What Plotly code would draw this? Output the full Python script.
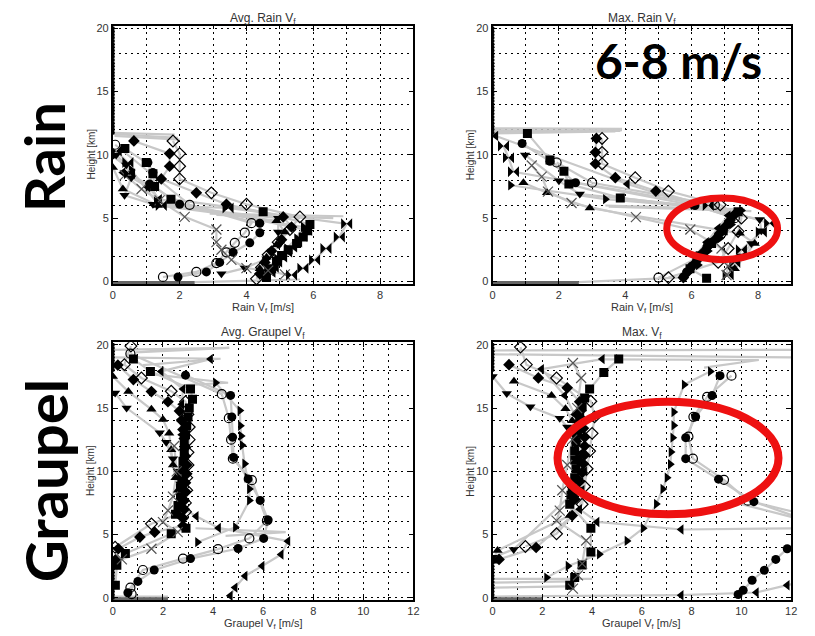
import plotly.graph_objects as go

# ---------------- Avg. Rain V_f  (v [m/s], h [km]) ----------------
ar_diamond_o_v = [1.8, 2.0, 2.0, 2.0, 2.95, 4.0, 5.6, 5.3, 4.95, 4.65, 4.45, 4.3]
ar_diamond_o_h = [11.1, 10.1, 9.1, 8.1, 7.0, 6.1, 5.1, 4.1, 3.1, 2.1, 1.1, 0.2]
ar_diamond_f_v = [0.63, 1.7, 1.7, 1.45, 2.5, 3.4, 5.1, 5.35, 5.05, 4.75, 4.55, 4.4]
ar_diamond_f_h = [11.1, 10.1, 9.1, 8.1, 7.0, 6.1, 5.1, 4.3, 3.3, 2.4, 1.5, 0.6]
ar_square_v = [0.36, 1.0, 1.2, 1.25, 1.74, 4.5, 5.9, 5.8, 5.7, 5.5, 5.25, 5.05, 4.9, 4.75, 4.6]
ar_square_h = [10.5, 9.4, 8.5, 7.5, 6.5, 5.5, 4.5, 4.0, 3.5, 3.0, 2.5, 2.05, 1.6, 1.0, 0.3]
ar_circle_f_v = [1.05, 1.2, 1.1, 2.0, 4.4, 4.4, 4.1, 3.6, 3.2, 2.8, 1.95]
ar_circle_f_h = [9.4, 8.6, 7.7, 6.1, 4.6, 3.85, 3.05, 2.3, 1.5, 0.75, 0.35]
ar_circle_o_v = [0.07, 2.3, 4.15, 3.95, 3.65, 3.4, 3.1, 2.5, 1.5]
ar_circle_o_h = [10.8, 6.05, 4.6, 3.85, 3.05, 2.3, 1.45, 0.75, 0.35]
ar_tri_down_v = [0.1, 0.4, 0.55, 0.35, 1.2, 4.95, 4.95, 5.0, 4.6, 3.95, 3.25]
ar_tri_down_h = [10.0, 9.2, 8.2, 6.8, 6.1, 5.0, 3.9, 2.95, 1.8, 1.05, 0.6]
ar_tri_up_v = [0.0, 0.3, 1.35, 4.9, 5.15, 4.9, 4.6, 4.4]
ar_tri_up_h = [9.0, 7.3, 6.0, 4.8, 3.9, 2.9, 1.9, 1.0]
ar_tri_left_v = [0.3, 1.05, 1.4, 5.9, 5.75, 5.6, 5.45, 5.3, 5.15, 5.0, 4.9, 4.8]
ar_tri_left_h = [8.6, 7.45, 6.5, 4.0, 3.55, 3.1, 2.7, 2.3, 1.9, 1.5, 1.1, 0.7]
ar_tri_right_v = [0.0, 0.55, 1.3, 5.7, 5.5, 5.2, 4.9, 4.6]
ar_tri_right_h = [9.9, 8.8, 6.3, 4.3, 3.4, 2.6, 1.8, 0.9]
ar_x_v = [0.36, 0.86, 1.4, 2.15, 3.1, 3.1, 3.25, 3.55, 4.0, 4.65, 5.15]
ar_x_h = [8.4, 7.3, 6.4, 5.1, 4.1, 3.1, 2.5, 1.7, 1.05, 0.85, 0.55]
ar_bowtie_v = [0.1, 0.45, 0.5, 1.15, 1.45, 3.45, 7.0, 6.78, 6.38, 6.04, 5.69, 5.35]
ar_bowtie_h = [10.3, 9.4, 8.5, 7.5, 6.0, 5.8, 4.55, 3.5, 2.6, 1.7, 1.04, 0.5]
ar_tail_v = [0, 1.85, None, 0, 1.95, None, 0.05, 2.0, None, 2.9, 6.9, None, 3.1, 6.6, None, 2.45, 5.6]
ar_tail_h = [11.75, 11.6, None, 11.65, 11.35, None, 11.5, 11.2, None, 5.35, 5.15, None, 5.25, 5.0, None, -0.05, 0.15]
ar_surface_v = [0, 2.45]
ar_surface_h = [-0.08, -0.08]

# ---------------- Max. Rain V_f ----------------
mr_square_v = [1.05, 1.73, 2.15, 2.3, 3.85, 7.4, 6.95, 6.6, 6.25, 5.95, 6.45]
mr_square_h = [11.7, 9.6, 8.7, 7.7, 6.6, 5.5, 4.0, 3.0, 2.0, 1.0, 0.25]
mr_circle_f_v = [0.89, 1.73, 2.5, 6.1, 7.2, 7.1, 6.95, 6.8, 6.6, 6.45, 6.3, 6.15, 6.0, 5.85, 5.75]
mr_circle_f_h = [10.9, 9.5, 7.8, 6.0, 5.1, 4.6, 4.0, 3.6, 3.1, 2.6, 2.1, 1.65, 1.2, 0.75, 0.35]
mr_circle_o_v = [1.93, 3.0, 6.7, 7.3, 6.9, 6.5, 6.2, 5.0]
mr_circle_o_h = [9.4, 7.8, 6.05, 5.0, 3.8, 2.9, 1.9, 0.3]
mr_diamond_f_v = [3.13, 3.1, 3.1, 3.7, 4.92, 7.3, 7.15, 7.0, 6.85, 6.7, 6.5, 6.35, 6.2, 6.05, 5.9, 5.75]
mr_diamond_f_h = [11.3, 10.2, 9.3, 8.2, 7.14, 5.3, 4.8, 4.3, 3.8, 3.3, 2.8, 2.3, 1.8, 1.3, 0.8, 0.3]
mr_diamond_o_v = [3.3, 3.3, 3.3, 4.3, 5.3, 6.86, 7.5, 7.4, 7.1, 6.8, 5.3]
mr_diamond_o_h = [11.3, 10.2, 9.3, 8.2, 7.14, 6.05, 5.0, 3.95, 2.6, 1.5, 0.3]
mr_tri_right_v = [0.54, 3.4, 7.5, 7.2, 6.85, 6.5, 6.2]
mr_tri_right_h = [7.6, 6.5, 5.6, 4.5, 3.4, 2.4, 1.3]
mr_tri_left_v = [0.1, 4.06, 7.1, 6.8, 6.45, 6.1, 5.85]
mr_tri_left_h = [11.5, 7.7, 5.2, 4.2, 3.1, 2.0, 0.8]
mr_tri_down_v = [0.98, 2.0, 2.63, 6.0, 8.05, 8.1, 7.8, 7.5, 7.2]
mr_tri_down_h = [10.0, 7.95, 6.9, 6.0, 4.9, 4.0, 3.0, 2.0, 1.0]
mr_tri_up_v = [0.93, 1.64, 2.93, 7.45, 7.9, 7.6, 7.3]
mr_tri_up_h = [7.8, 7.0, 5.8, 3.8, 3.0, 2.0, 1.0]
mr_bowtie_v = [0.33, 0.48, 0.63, 6.5, 8.35, 8.1, 7.5, 7.3, 7.1]
mr_bowtie_h = [10.7, 9.77, 8.67, 6.0, 4.6, 3.9, 2.5, 1.5, 0.5]
mr_x_v = [1.18, 1.48, 1.67, 2.38, 4.32, 5.96, 6.9, 7.1, 7.05]
mr_x_h = [9.16, 8.28, 7.1, 6.2, 5.08, 4.1, 2.6, 1.2, 0.5]
mr_tail_v = [0, 3.9, None, 0, 3.85, None, 0, 3.9, None, 0, 3.7, None, 2.6, 5.6, None, 3.4, 7.6, None, 3.5, 7.8]
mr_tail_h = [12.1, 12.05, None, 11.95, 11.9, None, 11.8, 11.95, None, 11.7, 11.85, None, -0.05, 0.3, None, 6.0, 5.7, None, 5.9, 5.55]
mr_surface_v = [0, 2.6]
mr_surface_h = [-0.08, -0.08]

rain_zero_h = [11.75, 12.0, 12.25, 12.5, 12.75, 13.0, 13.25, 13.5, 13.75, 14.0, 14.25, 14.5,
               14.75, 15.0, 15.25, 15.5, 15.75, 16.0, 16.25, 16.5, 16.75, 17.0, 17.25, 17.5,
               17.75, 18.0, 18.25, 18.5, 18.75, 19.0, 19.25, 19.5, 19.75, 20.0]
rain_zero_v = [0.0] * len(rain_zero_h)

# ---------------- Avg. Graupel V_f ----------------
ag_circle_f_v = [2.9, 4.7, 4.75, 4.78, 4.82, 5.4, 5.88, 6.2, 6.02, 5.0, 3.1, 1.65, 1.0, 0.6]
ag_circle_f_h = [17.6, 16.0, 14.3, 12.7, 11.1, 9.4, 7.7, 6.15, 4.7, 3.9, 3.1, 2.2, 1.3, 0.4]
ag_circle_o_v = [0.7, 4.35, 4.63, 4.72, 4.79, 5.55, 6.15, 5.45, 4.2, 2.8, 1.2, 0.7, 0.75]
ag_circle_o_h = [19.3, 16.1, 14.2, 12.5, 11.0, 9.3, 6.1, 4.7, 3.85, 3.1, 2.2, 0.8, 0.3]
ag_tri_right_v = [4.1, 5.07, 5.09, 5.12, 5.16, 5.26, 5.35, 5.45, 5.45, 4.89, 3.38]
ag_tri_right_h = [17.0, 14.8, 13.6, 12.8, 12.06, 10.6, 9.5, 8.6, 7.7, 5.58, 4.4]
ag_tri_left_v = [3.9, 1.93, 2.8, 2.75, 2.7, 2.75, 2.8, 2.85, 2.8, 2.75, 2.7, 3.33, 4.22, 6.99, 6.72, 5.96, 5.28, 4.88, 4.69]
ag_tri_left_h = [18.87, 17.9, 16.5, 15.3, 14.1, 12.9, 11.7, 10.5, 9.3, 8.1, 7.2, 6.45, 5.53, 4.48, 3.43, 2.52, 1.73, 0.81, 0.16]
ag_square_v = [0.82, 1.5, 3.1, 3.18, 3.05, 3.0, 2.95, 2.9, 2.85, 2.85, 2.8, 2.8, 2.75, 2.7, 2.7, 2.6, 2.5, 2.92, 2.33, 0.5, 0.16, 0.1]
ag_square_h = [18.87, 17.9, 16.5, 15.7, 15.0, 14.3, 13.6, 12.9, 12.2, 11.5, 10.8, 10.1, 9.4, 8.7, 8.0, 7.3, 6.6, 5.5, 5.06, 3.5, 2.57, 1.0]
ag_diamond_f_v = [0.2, 0.82, 1.54, 2.2, 2.66, 2.75, 2.8, 2.85, 2.9, 2.9, 2.95, 2.95, 2.9, 2.9, 2.85, 2.85, 2.8, 2.8, 1.67, 1.08, 0.22, 0.1]
ag_diamond_f_h = [18.4, 17.25, 16.3, 15.5, 14.76, 14.0, 13.3, 12.6, 11.9, 11.2, 10.5, 9.8, 9.1, 8.4, 7.7, 7.0, 6.3, 5.7, 5.19, 4.8, 3.88, 3.0]
ag_diamond_o_v = [0.72, 0.46, 1.14, 2.33, 2.9, 3.0, 3.05, 3.05, 3.0, 3.0, 2.95, 2.95, 2.9, 2.9, 1.54, 0.09]
ag_diamond_o_h = [19.9, 18.43, 17.38, 16.33, 15.5, 14.5, 13.5, 12.5, 11.5, 10.5, 9.5, 8.5, 7.5, 6.8, 5.85, 4.0]
ag_tri_up_v = [0.0, 0.62, 1.54, 2.0, 2.25, 2.33, 2.4, 2.5, 2.6, 2.65, 2.7]
ag_tri_up_h = [17.5, 16.3, 14.9, 14.1, 13.0, 11.7, 10.5, 9.5, 8.5, 7.5, 6.5]
ag_tri_down_v = [0.09, 0.55, 1.87, 2.13, 2.4, 2.6, 2.7, 2.75]
ag_tri_down_h = [16.2, 15.0, 13.05, 12.3, 11.0, 10.0, 9.0, 8.0]
ag_x_v = [2.45, 2.55, 2.4, 2.2, 2.0, 2.59, 1.54, 0.36]
ag_x_h = [12.0, 10.0, 8.0, 6.9, 5.98, 5.19, 3.88, 3.04]
ag_tail_v = [0, 4.65, 0.9, None, 0, 4.3, 1.2, None, 1.4, 4.6, 2.7, None, 3.3, 6.9, 4.5, None, 0, 2.2]
ag_tail_h = [19.6, 19.75, 19.4, None, 19.0, 18.9, 18.4, None, 17.7, 17.0, 16.8, None, 5.5, 5.2, 4.9, None, 0.1, 0.1]
ag_surface_v = [0, 2.2]
ag_surface_h = [-0.08, -0.08]

# ---------------- Max. V_f (graupel) ----------------
mg_tri_right_v = [8.75, 7.7, 7.28, 7.28, 7.24, 7.17, 7.14, 7.01, 6.84, 6.58, 6.05, 5.4, 4.29, 3.03, 2.17]
mg_tri_right_h = [17.9, 16.85, 14.68, 13.63, 12.66, 11.53, 10.56, 9.5, 8.6, 7.42, 5.5, 4.5, 3.44, 2.52, 1.6]
mg_circle_f_v = [9.14, 8.82, 8.16, 7.76, 7.76, 9.08, 10.5, 13.5, 11.84, 11.38, 10.92, 10.43, 10.07, 9.87]
mg_circle_f_h = [17.56, 15.99, 14.31, 12.66, 11.0, 9.38, 7.6, 5.5, 3.88, 3.04, 2.18, 1.39, 0.6, 0.26]
mg_circle_o_v = [9.6, 8.62, 8.07, 7.87, 8.05, 9.3, 10.26, 12.5]
mg_circle_o_h = [17.56, 15.88, 14.31, 12.74, 11.0, 9.33, 7.68, 6.6]
mg_tri_left_v = [4.41, 1.97, 2.9, 3.3, 3.5, 3.6, 3.7, 3.6, 3.5, 4.2, 7.58, 12.5]
mg_tri_left_h = [18.87, 18.08, 16.0, 14.5, 13.0, 11.5, 10.0, 8.5, 7.0, 6.0, 5.4, 5.5]
mg_tri_left2_v = [7.58, 10.6, 11.84, 12.5]
mg_tri_left2_h = [0.21, 0.42, 1.0, 1.3]
mg_square_v = [5.07, 4.47, 3.9, 3.7, 3.6, 3.5, 3.45, 3.4, 3.35, 3.3, 3.3, 3.35, 3.3, 3.2, 3.15, 3.1, 3.95, 3.95, 3.6, 3.3, 3.1]
mg_square_h = [18.87, 17.82, 16.5, 15.8, 15.1, 14.4, 13.7, 13.0, 12.3, 11.6, 10.9, 10.2, 9.5, 8.8, 8.1, 7.4, 5.5, 3.62, 2.6, 1.6, 1.0]
mg_diamond_o_v = [1.12, 1.36, 2.57, 3.95, 4.1, 4.0, 3.9, 3.8, 3.7, 3.6, 2.57, 1.32]
mg_diamond_o_h = [19.82, 18.43, 17.38, 15.54, 14.3, 13.0, 11.6, 10.2, 8.8, 7.4, 5.06, 4.06]
mg_diamond_f_v = [0.66, 1.84, 3.0, 3.5, 3.55, 3.6, 3.65, 3.7, 3.7, 3.7, 3.65, 3.6, 3.5, 3.4, 3.3, 3.2, 1.75, 0.26]
mg_diamond_f_h = [18.43, 17.38, 16.6, 15.5, 14.8, 14.1, 13.4, 12.7, 12.0, 11.3, 10.6, 9.9, 9.2, 8.5, 7.8, 6.5, 3.98, 3.04]
mg_tri_up_v = [0.86, 2.37, 2.93, 3.2, 3.4, 3.5, 3.4, 3.3, 3.1, 0.2, 0.0]
mg_tri_up_h = [17.12, 15.99, 14.94, 14.0, 12.5, 11.0, 9.5, 8.0, 6.5, 3.75, 2.9]
mg_tri_down_v = [0.0, 0.57, 1.52, 2.7, 3.0, 3.3, 3.35, 3.4, 3.45, 3.5, 3.45, 3.4, 0.85, 0.0]
mg_tri_down_h = [17.5, 16.15, 15.1, 14.2, 13.5, 12.8, 12.1, 11.4, 10.7, 10.0, 9.3, 8.6, 3.83, 3.2]
mg_x_v = [3.23, 3.56, 3.4, 3.2, 3.0, 2.8, 2.7, 2.57, 3.76, 3.6, 3.43, 3.23]
mg_x_h = [18.56, 17.38, 15.0, 12.5, 10.5, 8.5, 6.89, 6.1, 4.53, 2.7, 1.78, 0.73]
mg_tail_v = [0, 12, None, 0, 12, None, 4.5, 10.7, 8.5, None, 0, 4.0, None, 0, 3.2, None,
             0, 3.0, None, 0, 7.58, None, 9.6, 12, None]
mg_tail_h = [19.55, 19.6, None, 19.25, 19.0, None, 18.85, 18.8, 18.2, None, 1.5, 1.5, None, 1.2, 1.3, None,
             0.8, 0.9, None, 0.1, 0.21, None, 7.6, 6.4, None]
mg_surface_v = [0, 2.0]
mg_surface_h = [-0.08, -0.08]

graupel_zero_h = [0.0, 0.25, 0.5, 0.75, 1.0, 1.25, 1.5, 1.75, 2.0, 2.25, 2.5, 2.75, 3.0,
                  18.0, 18.25, 18.5, 18.75, 19.0, 19.25, 19.5, 19.75, 20.0]
graupel_zero_v = [0.0] * len(graupel_zero_h)

# ---------------- styling ----------------
LINE_GRAY = "#c8c8c8"
GRID_DASH = "2px,4px"
FONT = "Liberation Sans"

panels = [
    ("x", "y", [
        (ar_diamond_o_v, ar_diamond_o_h, "diamond-open"), (ar_diamond_f_v, ar_diamond_f_h, "diamond"),
        (ar_square_v, ar_square_h, "square"), (ar_circle_f_v, ar_circle_f_h, "circle"),
        (ar_circle_o_v, ar_circle_o_h, "circle-open"), (ar_tri_down_v, ar_tri_down_h, "triangle-down"),
        (ar_tri_up_v, ar_tri_up_h, "triangle-up"), (ar_tri_left_v, ar_tri_left_h, "triangle-left"),
        (ar_tri_right_v, ar_tri_right_h, "triangle-right"), (ar_x_v, ar_x_h, "x-thin-open"),
        (ar_bowtie_v, ar_bowtie_h, "bowtie")],
     (ar_tail_v, ar_tail_h), (ar_surface_v, ar_surface_h), (rain_zero_v, rain_zero_h)),
    ("x2", "y2", [
        (mr_square_v, mr_square_h, "square"), (mr_circle_f_v, mr_circle_f_h, "circle"),
        (mr_circle_o_v, mr_circle_o_h, "circle-open"), (mr_diamond_f_v, mr_diamond_f_h, "diamond"),
        (mr_diamond_o_v, mr_diamond_o_h, "diamond-open"), (mr_tri_right_v, mr_tri_right_h, "triangle-right"),
        (mr_tri_left_v, mr_tri_left_h, "triangle-left"), (mr_tri_down_v, mr_tri_down_h, "triangle-down"),
        (mr_tri_up_v, mr_tri_up_h, "triangle-up"), (mr_bowtie_v, mr_bowtie_h, "bowtie"),
        (mr_x_v, mr_x_h, "x-thin-open")],
     (mr_tail_v, mr_tail_h), (mr_surface_v, mr_surface_h), (rain_zero_v, rain_zero_h)),
    ("x3", "y3", [
        (ag_circle_f_v, ag_circle_f_h, "circle"), (ag_circle_o_v, ag_circle_o_h, "circle-open"),
        (ag_tri_right_v, ag_tri_right_h, "triangle-right"), (ag_tri_left_v, ag_tri_left_h, "triangle-left"),
        (ag_square_v, ag_square_h, "square"), (ag_diamond_f_v, ag_diamond_f_h, "diamond"),
        (ag_diamond_o_v, ag_diamond_o_h, "diamond-open"), (ag_tri_up_v, ag_tri_up_h, "triangle-up"),
        (ag_tri_down_v, ag_tri_down_h, "triangle-down"), (ag_x_v, ag_x_h, "x-thin-open")],
     (ag_tail_v, ag_tail_h), (ag_surface_v, ag_surface_h), (graupel_zero_v, graupel_zero_h)),
    ("x4", "y4", [
        (mg_tri_right_v, mg_tri_right_h, "triangle-right"), (mg_circle_f_v, mg_circle_f_h, "circle"),
        (mg_circle_o_v, mg_circle_o_h, "circle-open"), (mg_tri_left_v, mg_tri_left_h, "triangle-left"),
        (mg_tri_left2_v, mg_tri_left2_h, "triangle-left"), (mg_square_v, mg_square_h, "square"),
        (mg_diamond_o_v, mg_diamond_o_h, "diamond-open"), (mg_diamond_f_v, mg_diamond_f_h, "diamond"),
        (mg_tri_up_v, mg_tri_up_h, "triangle-up"), (mg_tri_down_v, mg_tri_down_h, "triangle-down"),
        (mg_x_v, mg_x_h, "x-thin-open")],
     (mg_tail_v, mg_tail_h), (mg_surface_v, mg_surface_h), (graupel_zero_v, graupel_zero_h)),
]

fig = go.Figure()


def marker_style(sym):
    if sym == "x-thin-open":
        return dict(symbol=sym, size=10, color="#555555", line=dict(color="#555555", width=1.2))
    if sym.endswith("-open"):
        return dict(symbol=sym, size=9, color="black", line=dict(color="black", width=1.2))
    if sym == "bowtie":
        return dict(symbol=sym, size=11, color="black", line=dict(width=0))
    return dict(symbol=sym, size=9, color="black", line=dict(width=0))


for xa, ya, series, tail, surface, zero in panels:
    common = dict(xaxis=xa, yaxis=ya, showlegend=False, hoverinfo="skip")
    for v, h, sym in series:
        fig.add_trace(go.Scatter(x=v, y=h, mode="lines", line=dict(color=LINE_GRAY, width=2.2), **common))
    fig.add_trace(go.Scatter(x=tail[0], y=tail[1], mode="lines", connectgaps=False,
                             line=dict(color=LINE_GRAY, width=2.2), **common))
    fig.add_trace(go.Scatter(x=surface[0], y=surface[1], mode="lines",
                             line=dict(color="#666666", width=3), **common))
    fig.add_trace(go.Scatter(x=zero[0], y=zero[1], mode="markers",
                             marker=dict(symbol="circle", size=4, color="black"), **common))
    for v, h, sym in series:
        fig.add_trace(go.Scatter(x=v, y=h, mode="markers", marker=marker_style(sym), **common))

# The page body has an 8px margin; the figure starts at (8, 8) and fills the rest of the window
OFF = 8
W, H = 815 - OFF, 636 - OFF


def px_x(p):
    return (p - OFF) / W


def px_y(p):
    return 1 - (p - OFF) / H


def xdom(p0, p1):
    return [px_x(p0), px_x(p1)]


def ydom(top, bottom):
    return [px_y(bottom), px_y(top)]


def xaxis_cfg(dom, xmax, anchor):
    return dict(domain=dom, range=[0, xmax], anchor=anchor, tick0=0, dtick=2,
                showgrid=True, gridcolor="black", gridwidth=1, griddash=GRID_DASH,
                minor=dict(tick0=0, dtick=1, showgrid=True, gridcolor="black", gridwidth=1,
                           griddash=GRID_DASH, ticks="inside", ticklen=3, tickcolor="black"),
                ticks="inside", ticklen=5, tickcolor="black", showline=True, linecolor="black",
                linewidth=1.8, mirror="allticks", zeroline=False,
                tickfont=dict(family=FONT, size=11, color="#333333"))


def yaxis_cfg(dom, anchor):
    return dict(domain=dom, range=[-0.2, 20.2], anchor=anchor, tickmode="array",
                tickvals=[0, 5, 10, 15, 20], showgrid=False,
                minor=dict(tick0=0, dtick=2, showgrid=True, gridcolor="black", gridwidth=1,
                           griddash=GRID_DASH, ticks="outside", ticklen=0),
                ticks="inside", ticklen=5, tickcolor="black", showline=True, linecolor="black",
                linewidth=1.8, mirror="allticks", zeroline=False,
                tickfont=dict(family=FONT, size=11, color="#333333"))


LX = xdom(111, 415)
RX = xdom(495, 797)
TY = ydom(22, 283)
BY = ydom(342, 603)

fig.update_layout(
    width=W, height=H, autosize=False, margin=dict(l=0, r=0, t=0, b=0),
    paper_bgcolor="white", plot_bgcolor="white", showlegend=False,
    xaxis=xaxis_cfg(LX, 9, "y"), yaxis=yaxis_cfg(TY, "x"),
    xaxis2=xaxis_cfg(RX, 9, "y2"), yaxis2=yaxis_cfg(TY, "x2"),
    xaxis3=xaxis_cfg(LX, 12, "y3"), yaxis3=yaxis_cfg(BY, "x3"),
    xaxis4=xaxis_cfg(RX, 12, "y4"), yaxis4=yaxis_cfg(BY, "x4"),
)

annots = []


def ann(text, px, py, size, angle=0, bold=False, family=FONT, color="#333333"):
    annots.append(dict(text=f"<b>{text}</b>" if bold else text, x=px_x(px), y=px_y(py),
                       xref="paper", yref="paper", showarrow=False, textangle=angle,
                       xanchor="center", yanchor="middle",
                       font=dict(family=family, size=size, color=color)))


ann("Avg. Rain V<sub>f</sub>", 263, 15, 12)
ann("Max. Rain V<sub>f</sub>", 646, 15, 12)
ann("Avg. Graupel V<sub>f</sub>", 263, 333, 12)
ann("Max. V<sub>f</sub>", 646, 333, 12)
ann("Rain V<sub>f</sub> [m/s]", 263, 307, 11)
ann("Rain V<sub>f</sub> [m/s]", 646, 307, 11)
ann("Graupel V<sub>f</sub> [m/s]", 263, 627, 11)
ann("Graupel V<sub>f</sub> [m/s]", 646, 627, 11)
ann("Height [km]", 89, 152, 10, angle=-90)
ann("Height [km]", 473, 152, 10, angle=-90)
ann("Height [km]", 89, 472, 10, angle=-90)
ann("Height [km]", 473, 472, 10, angle=-90)
ann("Rain", 41, 155, 56, angle=-90, bold=True, family="Lato", color="black")
ann("Graupel", 43, 482, 58, angle=-90, bold=True, family="Lato", color="black")
ann("6-8 m/s", 683, 57, 48, bold=True, family="Lato", color="black")

fig.update_layout(annotations=annots)

fig.update_layout(shapes=[
    dict(type="circle", xref="x2", yref="y2", x0=5.25, x1=8.59, y0=1.72, y1=6.6,
         line=dict(color="#ee1111", width=7), layer="above"),
    dict(type="circle", xref="x4", yref="y4", x0=2.61, x1=11.49, y0=6.6, y1=15.49,
         line=dict(color="#ee1111", width=8), layer="above"),
])

fig.write_html("out.html")
